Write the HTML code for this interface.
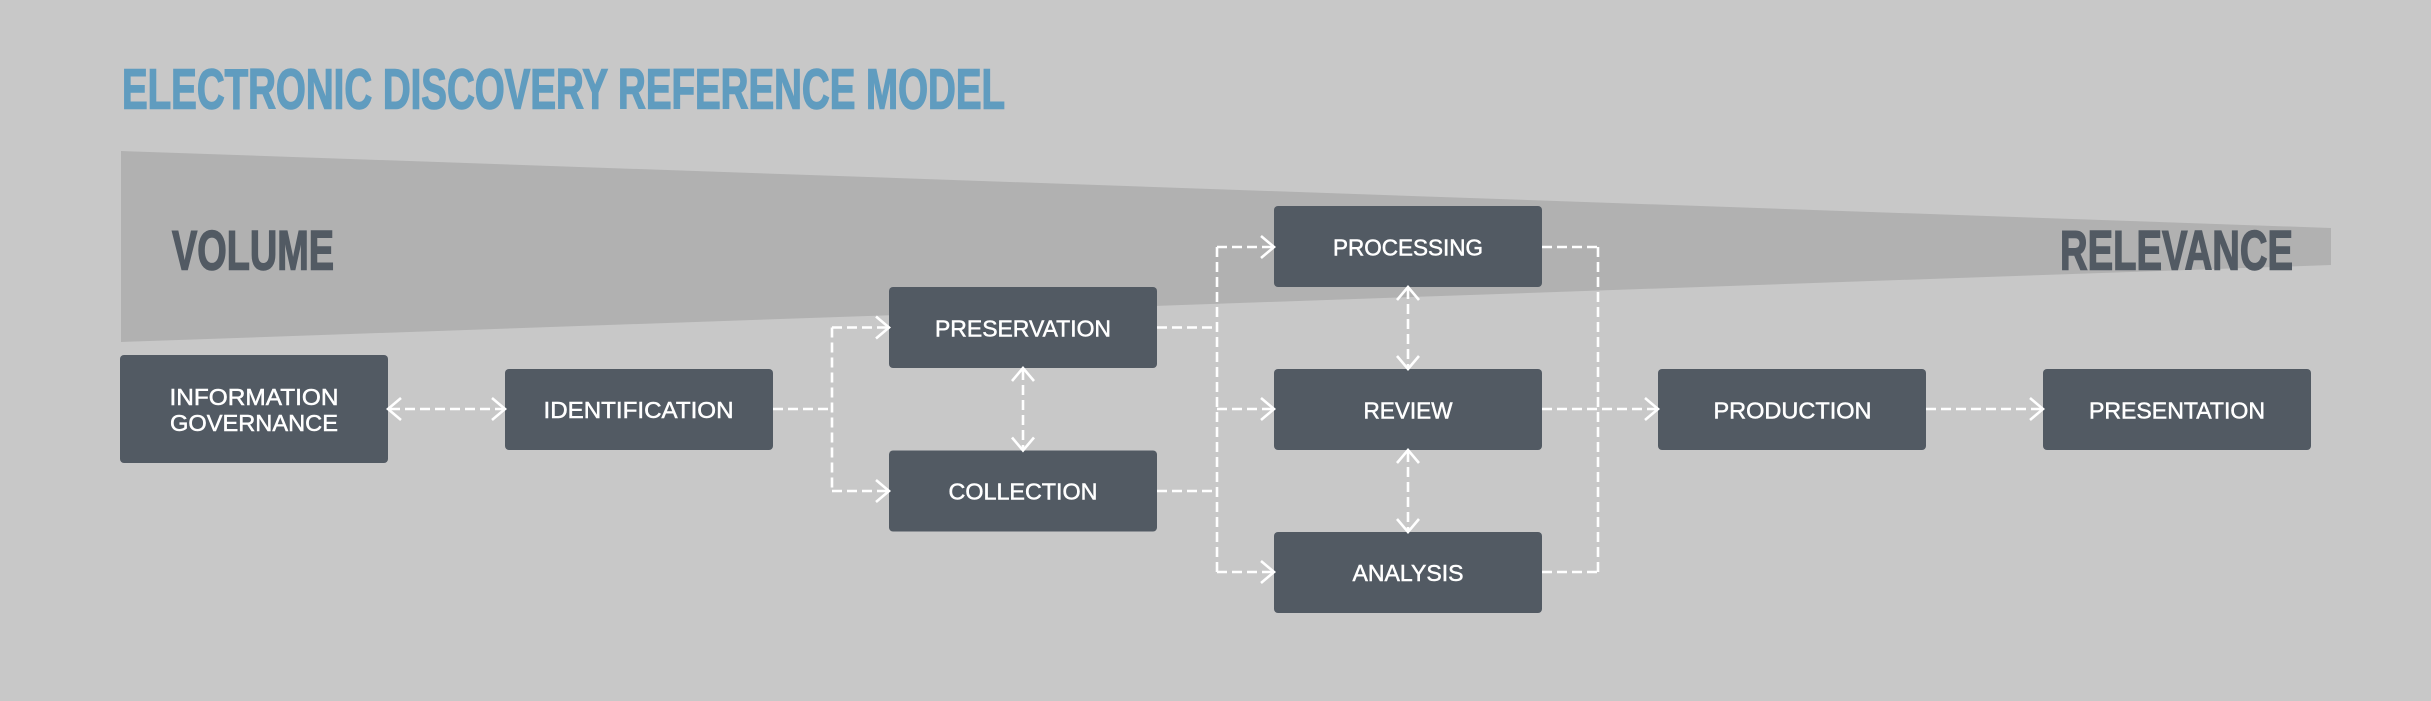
<!DOCTYPE html>
<html>
<head>
<meta charset="utf-8">
<style>
  html, body { margin: 0; padding: 0; background: #c8c8c8; }
  body { width: 2431px; height: 701px; overflow: hidden; }
  svg { display: block; }
  .lbl { font-family: "Liberation Sans", sans-serif; font-size: 23px; fill: #ffffff; stroke: #ffffff; stroke-width: 0.5px; text-anchor: middle; }
  .disp { font-family: "Liberation Sans", sans-serif; font-weight: bold; }
</style>
</head>
<body>
<svg width="2431" height="701" viewBox="0 0 2431 701" xmlns="http://www.w3.org/2000/svg">
  <rect x="0" y="0" width="2431" height="701" fill="#c8c8c8"/>

  <!-- wedge -->
  <polygon points="121,151 2331,228 2331,265 121,342" fill="#b1b1b1"/>

  <!-- title -->
  <text class="disp" x="122" y="108.5" font-size="57" fill="#609cbf" stroke="#609cbf" stroke-width="1.5" textLength="883" lengthAdjust="spacingAndGlyphs">ELECTRONIC DISCOVERY REFERENCE MODEL</text>

  <!-- volume / relevance -->
  <text class="disp" x="172" y="269.5" font-size="56" fill="#525a63" stroke="#525a63" stroke-width="1.5" textLength="162" lengthAdjust="spacingAndGlyphs">VOLUME</text>
  <text class="disp" x="2060" y="269.5" font-size="56" fill="#525a63" stroke="#525a63" stroke-width="1.5" textLength="233" lengthAdjust="spacingAndGlyphs">RELEVANCE</text>

  <!-- connectors (dashed) -->
  <g fill="none" stroke="#ffffff" stroke-width="2.6" stroke-dasharray="10 5">
    <path d="M390,409 H503"/>
    <path d="M773,409 H832"/>
    <path d="M832,327.5 V491"/>
    <path d="M832,327.5 H887"/>
    <path d="M832,491 H887"/>
    <path d="M1023,370 V448.5"/>
    <path d="M1157,327.5 H1217"/>
    <path d="M1157,491 H1217"/>
    <path d="M1217,247 V572"/>
    <path d="M1217,247 H1272"/>
    <path d="M1217,409 H1272"/>
    <path d="M1217,572 H1272"/>
    <path d="M1408,289 V367"/>
    <path d="M1408,452 V530"/>
    <path d="M1542,247 H1598"/>
    <path d="M1542,572 H1598"/>
    <path d="M1598,247 V572"/>
    <path d="M1542,409 H1656"/>
    <path d="M1926,409 H2041"/>
  </g>

  <!-- boxes -->
  <g fill="#525a63">
    <rect x="120" y="355" width="268" height="108" rx="4"/>
    <rect x="505" y="369" width="268" height="81" rx="4"/>
    <rect x="889" y="287" width="268" height="81" rx="4"/>
    <rect x="889" y="450.5" width="268" height="81" rx="4"/>
    <rect x="1274" y="206" width="268" height="81" rx="4"/>
    <rect x="1274" y="369" width="268" height="81" rx="4"/>
    <rect x="1274" y="532" width="268" height="81" rx="4"/>
    <rect x="1658" y="369" width="268" height="81" rx="4"/>
    <rect x="2043" y="369" width="268" height="81" rx="4"/>
  </g>

  <!-- arrowheads -->
  <g fill="none" stroke="#ffffff" stroke-width="2.6" stroke-linejoin="miter">
    <!-- right-pointing -->
    <path d="M492,398 L505,409 L492,420"/>
    <path d="M876,316.5 L889,327.5 L876,338.5"/>
    <path d="M876,480 L889,491 L876,502"/>
    <path d="M1261,236 L1274,247 L1261,258"/>
    <path d="M1261,398 L1274,409 L1261,420"/>
    <path d="M1261,561 L1274,572 L1261,583"/>
    <path d="M1645,398 L1658,409 L1645,420"/>
    <path d="M2030,398 L2043,409 L2030,420"/>
    <!-- left-pointing -->
    <path d="M401,398 L388,409 L401,420"/>
    <!-- up-pointing -->
    <path d="M1012,381 L1023,368 L1034,381"/>
    <path d="M1397,300 L1408,287 L1419,300"/>
    <path d="M1397,463 L1408,450 L1419,463"/>
    <!-- down-pointing -->
    <path d="M1012,437.5 L1023,450.5 L1034,437.5"/>
    <path d="M1397,356 L1408,369 L1419,356"/>
    <path d="M1397,519 L1408,532 L1419,519"/>
  </g>

  <!-- labels -->
  <text class="lbl" x="254" y="405" textLength="169" lengthAdjust="spacingAndGlyphs">INFORMATION</text>
  <text class="lbl" x="254" y="431" textLength="168" lengthAdjust="spacingAndGlyphs">GOVERNANCE</text>
  <text class="lbl" x="638.5" y="418" textLength="190" lengthAdjust="spacingAndGlyphs">IDENTIFICATION</text>
  <text class="lbl" x="1023" y="336.5" textLength="176" lengthAdjust="spacingAndGlyphs">PRESERVATION</text>
  <text class="lbl" x="1023" y="499.5" textLength="149" lengthAdjust="spacingAndGlyphs">COLLECTION</text>
  <text class="lbl" x="1408" y="255.5" textLength="150" lengthAdjust="spacingAndGlyphs">PROCESSING</text>
  <text class="lbl" x="1408" y="418.3" textLength="89" lengthAdjust="spacingAndGlyphs">REVIEW</text>
  <text class="lbl" x="1408" y="581" textLength="111" lengthAdjust="spacingAndGlyphs">ANALYSIS</text>
  <text class="lbl" x="1792.5" y="418.3" textLength="158" lengthAdjust="spacingAndGlyphs">PRODUCTION</text>
  <text class="lbl" x="2177" y="418.3" textLength="176" lengthAdjust="spacingAndGlyphs">PRESENTATION</text>
</svg>
</body>
</html>
